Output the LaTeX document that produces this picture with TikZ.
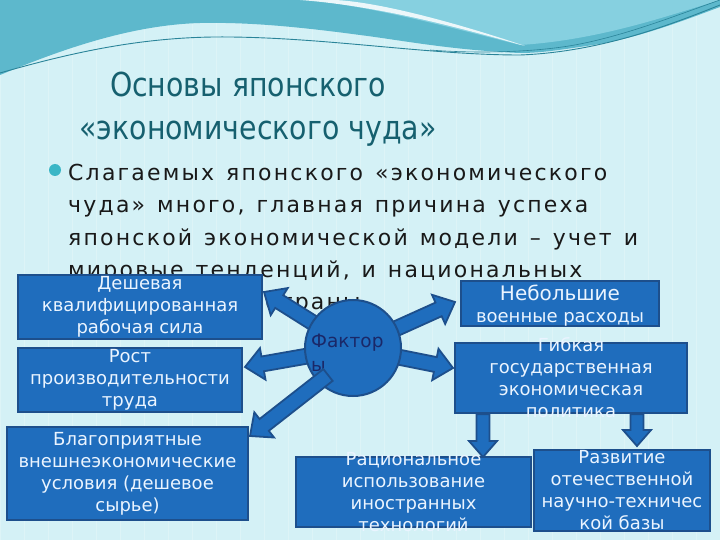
\documentclass[tikz,border=0pt]{standalone}
\usepackage{fontspec}
\setmainfont{DejaVu Sans}
\newfontfamily\titlefont[FakeStretch=0.86]{DejaVu Sans}
\newfontfamily\bodyfont[LetterSpace=10,WordSpace=1.3]{DejaVu Sans}
\usetikzlibrary{calc}
\pgfdeclarelayer{bg}\pgfdeclarelayer{arr}\pgfsetlayers{bg,arr,main}

\definecolor{bgc}{HTML}{D4F1F6}
\definecolor{teala}{HTML}{5DB8CC}
\definecolor{tealb}{HTML}{86D0E0}
\definecolor{wline}{HTML}{2A8499}
\definecolor{titlec}{HTML}{16606F}
\definecolor{boxfill}{HTML}{1F6DBD}
\definecolor{boxedge}{HTML}{1D4F8C}
\definecolor{boxtxt}{HTML}{EAF4FF}
\definecolor{factc}{HTML}{1A2868}
\definecolor{bulc}{HTML}{3AB6C6}

% #1 half shaft, #2 half head, #3 head length, #4 from, #5 to
\newcommand\blockarrow[5]{%
  \path ($(#5)!#3!(#4)$) coordinate (bahead);
  \draw[barrow] ($(#4)!#1!90:(#5)$) -- ($(bahead)!#1!-90:(#4)$) -- ($(bahead)!#2!-90:(#4)$) -- (#5) -- ($(bahead)!#2!90:(#4)$) -- ($(bahead)!#1!90:(#4)$) -- ($(#4)!#1!-90:(#5)$) -- cycle;}

\begin{document}
\begin{tikzpicture}[x=1pt,y=-1pt,
 box/.style={draw=boxedge, fill=boxfill, line width=2.5pt, inner sep=0pt, rectangle},
 boxtext/.style={text=boxtxt, align=center, font=\fontsize{18}{22}\selectfont, inner sep=0pt},
 body/.style={anchor=base west, inner sep=0pt, text=black!90, font=\bodyfont\fontsize{22}{32}\selectfont},
 barrow/.style={draw=boxedge, fill=boxfill, line width=1.8pt, line join=miter},
 titletext/.style={font=\titlefont\fontsize{33}{40}\selectfont, text=titlec, anchor=base, inner sep=0pt}]
\useasboundingbox (0,0) rectangle (720,540);

\begin{pgfonlayer}{bg}
\fill[bgc] (0,0) rectangle (720,540);
\draw[white, opacity=0.22, line width=0.8pt, step=24] (0,0) grid (720,540);
% top wave
\fill[teala] (0,0) -- (720,0) -- (720,7) .. controls (690,18) and (640,38) .. (593,45)
  .. controls (560,50) and (540,53) .. (520,53) .. controls (450,50) and (400,40) .. (360,35)
  .. controls (300,27) and (250,22) .. (200,23) .. controls (130,25) and (60,50) .. (0,75) -- cycle;
\fill[tealb] (310,0) .. controls (380,8) and (460,30) .. (520,45) .. controls (600,40) and (670,15) .. (720,0) -- cycle;
\fill[white, opacity=0.85] (300,0) .. controls (380,6) and (460,28) .. (525,46) .. controls (460,24) and (380,2) .. (335,0) -- cycle;
\draw[wline, line width=0.9pt] (0,73) .. controls (80,50) and (150,36) .. (230,37) .. controls (330,38) and (430,55) .. (520,55) .. controls (600,52) and (670,25) .. (720,5);
\draw[wline, line width=0.6pt] (430,50) .. controls (480,54) and (540,52) .. (580,44) .. controls (630,34) and (680,14) .. (720,0);
% title
\node[titletext] (ttl1) at (248,97) {Основы японского};
\node[titletext] (ttl2) at (258,140) {«экономического чуда»};
% bullet text
\fill[bulc] (55,170) circle (6pt);
\node[body] (l1) at (68,181) {Слагаемых японского «экономического};
\node[body] (l2) at (68,213) {чуда» много, главная причина успеха};
\node[body] (l3) at (68,245) {японской экономической модели – учет и};
\node[body] (l4) at (68,277) {мировые тенденций, и национальных};
\node[body] (l5) at (68,309) {особенностей страны};
\end{pgfonlayer}

% boxes
\node[box, minimum width=244pt, minimum height=64pt] (b1) at (140,307) {};
\node[boxtext] (x1) at (b1) {Дешевая\\квалифицированная\\рабочая сила};
\node[box, minimum width=224pt, minimum height=64pt] (b2) at (130,380) {};
\node[boxtext] (x2) at (b2) {Рост\\производительности\\труда};
\node[box, minimum width=241pt, minimum height=93pt] (b3) at (127.5,473.5) {};
\node[boxtext] (x3) at (b3) {Благоприятные\\внешнеэкономические\\условия (дешевое\\сырье)};
\node[box, minimum width=198pt, minimum height=45pt] (b4) at (560,303.5) {};
\node[boxtext] (x4) at (560,306) {{\fontsize{20}{22}\selectfont Небольшие}\\военные расходы};
\node[box, minimum width=232pt, minimum height=70pt] (b5) at (571,378) {};
\node[boxtext] (x5) at (b5) {Гибкая\\государственная\\экономическая\\политика};
\node[box, minimum width=235pt, minimum height=70pt] (b6) at (413.5,492) {};
\node[boxtext] (x6) at (b6) {Рациональное\\использование\\иностранных\\технологий};
\node[box, minimum width=176pt, minimum height=81pt] (b7) at (622,490.5) {};
\node[boxtext] (x7) at (b7) {Развитие\\отечественной\\научно-техничес\\кой базы};

% central circle
\node[circle, draw=boxedge, fill=boxfill, line width=2pt, minimum size=96pt, inner sep=0pt] (fac) at (353,348) {};
\node[anchor=west, align=left, text=factc, font=\fontsize{18.5}{24}\selectfont, inner sep=0pt] (factxt) at (311,353) {Фактор\\ы};

% arrow tips
\coordinate (tip1) at (264,292);
\coordinate (tip2) at (245,367);
\coordinate (tip3) at (250,436);
\coordinate (tip4) at (455,302);
\coordinate (tip5) at (453,368);
\coordinate (tip6) at (483,457);
\coordinate (tip7) at (637,446);
\coordinate (s3) at (328,375);

\begin{pgfonlayer}{arr}
\blockarrow{7.5pt}{16pt}{18pt}{fac.center}{tip1}
\blockarrow{7.5pt}{16pt}{18pt}{fac.center}{tip2}
\blockarrow{7.5pt}{16pt}{18pt}{fac.center}{tip4}
\blockarrow{7.5pt}{16pt}{18pt}{fac.center}{tip5}
\blockarrow{6.5pt}{14pt}{16pt}{b5.south -| tip6}{tip6}
\blockarrow{6.5pt}{14pt}{16pt}{b5.south -| tip7}{tip7}
\end{pgfonlayer}
\blockarrow{7.5pt}{16pt}{18pt}{s3}{tip3}
\end{tikzpicture}
\end{document}
